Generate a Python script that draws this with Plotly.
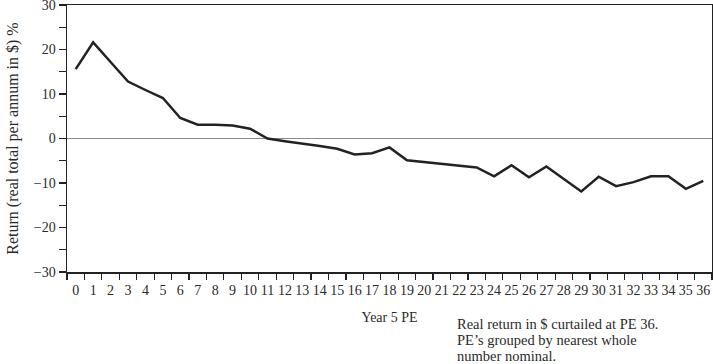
import plotly.graph_objects as go

pe_labels = [str(i) for i in range(37)]
real_return = [15.6, 21.6, 17.2, 12.8, 10.9, 9.1, 4.6, 3.1, 3.1, 2.9, 2.2, 0.0,
               -0.6, -1.1, -1.7, -2.3, -3.6, -3.3, -2.0, -4.9, -5.3, -5.8, -6.2,
               -6.5, -8.5, -6.0, -8.7, -6.3, -9.1, -11.9, -8.6, -10.7, -9.8,
               -8.5, -8.5, -11.3, -9.5]
y_ticks = [-30, -20, -10, 0, 10, 20, 30]
y_ticktext = ["\u221230", "\u221220", "\u221210", "0", "10", "20", "30"]
note_lines = ["Real return in $ curtailed at PE 36.",
              "PE\u2019s grouped by nearest whole",
              "number nominal."]

FONT = "Liberation Serif"
TXT = "#2a2a2a"

fig = go.Figure()
fig.add_trace(go.Scatter(
    x=pe_labels, y=real_return, mode="lines",
    line=dict(color="#222222", width=2.5),
    showlegend=False, hoverinfo="skip",
))

PLOT_TOP, PLOT_BOTTOM = 5, 272
fig.update_layout(
    width=713, height=364,
    margin=dict(l=67, r=1, t=PLOT_TOP, b=364 - PLOT_BOTTOM, autoexpand=False),
    paper_bgcolor="white", plot_bgcolor="white",
    font=dict(family=FONT, size=14, color=TXT),
    xaxis=dict(
        type="category", range=[-0.5, 36.5], automargin=False,
        showgrid=False, showline=True, linecolor="#222", linewidth=1.5,
        mirror=True, ticks="outside", ticklen=6, tickwidth=1.2, tickcolor="#222",
        tickson="boundaries", tickangle=0, ticklabelstandoff=5,
        tickfont=dict(family=FONT, size=14, color=TXT),
        title=dict(text="Year 5 PE", font=dict(family=FONT, size=14, color=TXT), standoff=15),
        fixedrange=True,
    ),
    yaxis=dict(
        range=[-30, 30], tickvals=y_ticks, ticktext=y_ticktext, automargin=False,
        ticklabeloverflow="allow",
        showgrid=False, showline=True, linecolor="#222", linewidth=1.5,
        mirror=True, ticks="outside", ticklen=7, tickwidth=1.2, tickcolor="#222",
        minor=dict(dtick=5, ticks="outside", ticklen=7, tickwidth=1.2, tickcolor="#222", showgrid=False),
        zeroline=True, zerolinecolor="#8a8a8a", zerolinewidth=1.2,
        tickfont=dict(family=FONT, size=14, color=TXT),
        title=dict(text="Return (real total per annum in $) %", font=dict(family=FONT, size=16, color=TXT), standoff=11),
        fixedrange=True,
    ),
)

plot_h = PLOT_BOTTOM - PLOT_TOP
for line, ypix in zip(note_lines, [324, 340, 355.5]):
    fig.add_annotation(
        xref="paper", yref="paper", x=(455 - 67) / 645, y=(PLOT_BOTTOM - ypix) / plot_h,
        xanchor="left", yanchor="middle", align="left", showarrow=False,
        text=line, font=dict(family=FONT, size=14.5, color=TXT),
    )

fig.write_html(
    "out.html",
    config={"displayModeBar": False, "staticPlot": True},
    post_script="document.body.style.margin='0';document.body.style.overflow='hidden';",
)
